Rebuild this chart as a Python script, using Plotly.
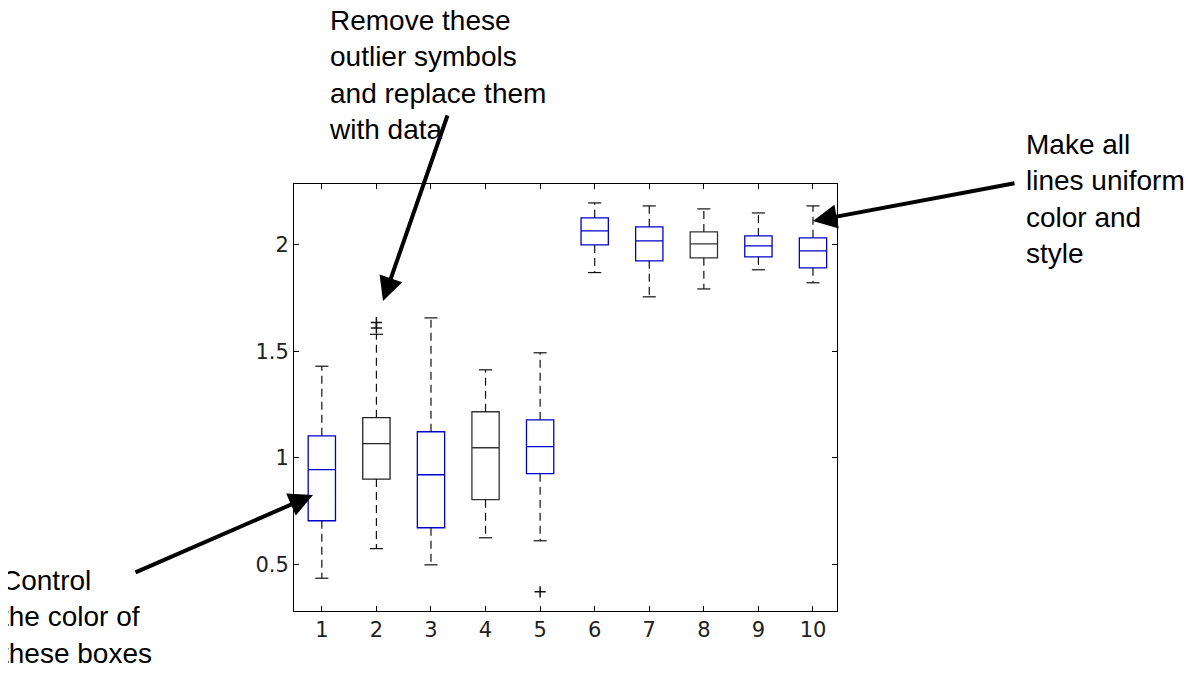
import plotly.graph_objects as go

groups = [1, 2, 3, 4, 5, 6, 7, 8, 9, 10]
q1 = [0.704, 0.90, 0.671, 0.803, 0.925, 2.0, 1.925, 1.939, 1.944, 1.892]
median = [0.944, 1.066, 0.92, 1.047, 1.052, 2.066, 2.019, 2.005, 1.995, 1.972]
q3 = [1.103, 1.188, 1.122, 1.216, 1.178, 2.127, 2.085, 2.061, 2.042, 2.033]
whisk_lo = [0.434, 0.573, 0.497, 0.624, 0.61, 1.87, 1.756, 1.793, 1.883, 1.822]
whisk_hi = [1.43, 1.58, 1.657, 1.413, 1.493, 2.197, 2.183, 2.169, 2.15, 2.183]
outlier_x = [2, 2, 5]
outlier_y = [1.61, 1.635, 0.37]
box_colors = ["#0000cc", "#222222", "#0000cc", "#333333", "#0000cc",
              "#0000cc", "#0000cc", "#333333", "#0000cc", "#0000cc"]

fig = go.Figure()
cap = 0.12
for i, g in enumerate(groups):
    fig.add_trace(go.Scatter(x=[g, g, None, g, g], y=[q3[i], whisk_hi[i], None, q1[i], whisk_lo[i]],
                             mode="lines", line=dict(color="#111", width=1.2, dash="8px,5px"),
                             showlegend=False, hoverinfo="skip"))
    fig.add_trace(go.Scatter(x=[g - cap, g + cap, None, g - cap, g + cap],
                             y=[whisk_hi[i], whisk_hi[i], None, whisk_lo[i], whisk_lo[i]],
                             mode="lines", line=dict(color="#111", width=1.2),
                             showlegend=False, hoverinfo="skip"))
    fig.add_trace(go.Box(x=[g], q1=[q1[i]], median=[median[i]], q3=[q3[i]],
                         lowerfence=[q1[i]], upperfence=[q3[i]], width=0.5,
                         line=dict(color=box_colors[i], width=1.3), fillcolor="rgba(0,0,0,0)",
                         showlegend=False, boxpoints=False))
fig.add_trace(go.Scatter(x=outlier_x, y=outlier_y, mode="markers",
                         marker=dict(symbol="cross-thin", size=8, line=dict(color="#111", width=1.5)),
                         showlegend=False))

# target pixel box of the plot area; the render shifts by ~7px, compensate in margins
L, R, T, B = 293, 836, 183, 610
SH = 7
def px(x): return (x - L) / (R - L)
def py(y): return (B - y) / (B - T)

font = dict(family="Liberation Sans, Arial", size=28, color="black")
ann = []
ann.append(dict(x=px(326), y=py(2), xref="paper", yref="paper", xanchor="left", yanchor="top", align="left",
                showarrow=False, font=font, text="Remove these<br>outlier symbols<br>and replace them<br>with data"))
ann.append(dict(x=px(1023), y=py(126), xref="paper", yref="paper", xanchor="left", yanchor="top", align="left",
                showarrow=False, font=font, text="Make all<br>lines uniform<br>color and<br>style"))
ann.append(dict(x=px(-2), y=py(562), xref="paper", yref="paper", xanchor="left", yanchor="top", align="left",
                showarrow=False, font=font, text="Control<br>the color of<br>these boxes"))
for hx, hy, tx, ty in [(382, 300, 447, 113), (812, 220, 1015, 182), (312, 494, 133, 572)]:
    ann.append(dict(x=px(hx), y=py(hy), xref="paper", yref="paper", ax=tx - hx, ay=ty - hy,
                    axref="pixel", ayref="pixel", showarrow=True, arrowhead=2, arrowsize=1.2,
                    arrowwidth=4, arrowcolor="black", text=""))

axis = dict(showgrid=False, zeroline=False, showline=True, linecolor="black", linewidth=1,
            mirror="ticks", ticks="inside", ticklen=5, tickcolor="black",
            tickfont=dict(family="DejaVu Sans", size=21, color="#222"))
fig.update_layout(width=1202, height=683,
                  margin=dict(l=L - SH, r=1202 - R + SH, t=T - SH, b=683 - B + SH),
                  paper_bgcolor="white", plot_bgcolor="white", annotations=ann,
                  xaxis=dict(axis, range=[0.49, 10.44], tickvals=groups, ticktext=[str(g) for g in groups]),
                  yaxis=dict(axis, range=[0.28, 2.286], tickvals=[0.5, 1, 1.5, 2], ticktext=["0.5", "1", "1.5", "2"]))
fig.write_html("out.html")
